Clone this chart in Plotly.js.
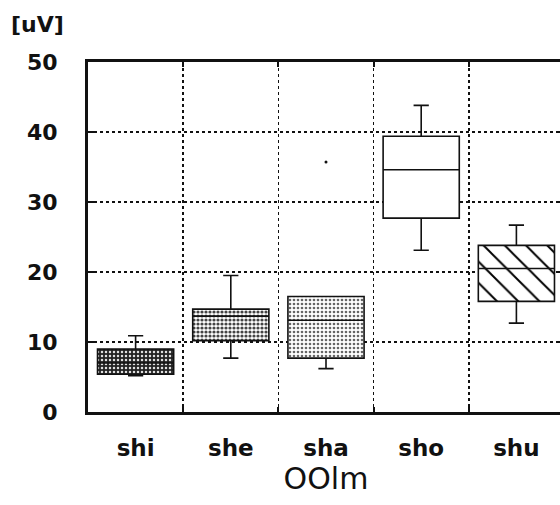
<!DOCTYPE html>
<html>
<head>
<meta charset="utf-8">
<script src="https://cdn.plot.ly/plotly-3.0.1.min.js"></script>
<style>
html,body{margin:0;padding:0;overflow:hidden;background:#fff;}
#chart{width:565px;height:505px;}
</style>
</head>
<body>
<div id="chart"></div>
<script>
// Data
const categories = ["shi", "she", "sha", "sho", "shu"];
const q1Values = [5.4, 10.2, 7.7, 27.7, 15.8];
const medianValues = [7.0, 13.7, 13.1, 34.6, 20.5];
const q3Values = [9.0, 14.7, 16.5, 39.4, 23.8];
const lowerWhiskers = [5.2, 7.7, 6.2, 23.1, 12.7];
const upperWhiskers = [10.9, 19.5, 16.5, 43.8, 26.7];
const outlierCategories = ["sha"];
const outlierValues = [35.7];
const yTickValues = [0, 10, 20, 30, 40, 50];
const yAxisUnit = "[uV]";
const xAxisTitle = "OOlm";

// Fill styles for each box (patterns), one per category
const fillStyles = [
  {shape: ".", bg: "#222222", fg: "#e0e0e0", size: 4, solidity: 0.3},
  {shape: ".", bg: "#ffffff", fg: "#444444", size: 4, solidity: 0.5},
  {shape: ".", bg: "#ffffff", fg: "#666666", size: 4, solidity: 0.35},
  {shape: "",  bg: "#ffffff", fg: "#ffffff", size: 8, solidity: 0.2},
  {shape: "\\", bg: "#ffffff", fg: "#000000", size: 15, solidity: 0.13}
];

const fillTraces = categories.map((cat, i) => {
  const st = fillStyles[i];
  return {
    type: "bar",
    x: [cat],
    y: [q3Values[i] - q1Values[i]],
    base: [q1Values[i]],
    width: 0.8,
    marker: {
      color: st.bg,
      line: {width: 0},
      pattern: {
        shape: st.shape,
        fillmode: "replace",
        bgcolor: st.bg,
        fgcolor: st.fg,
        size: st.size,
        solidity: st.solidity
      }
    },
    hoverinfo: "skip",
    showlegend: false
  };
});

const boxTrace = {
  type: "box",
  x: categories,
  q1: q1Values,
  median: medianValues,
  q3: q3Values,
  lowerfence: lowerWhiskers,
  upperfence: upperWhiskers,
  width: 0.8,
  whiskerwidth: 0.2,
  fillcolor: "rgba(0,0,0,0)",
  line: {color: "#111111", width: 1.6},
  boxpoints: false,
  showlegend: false
};

const outlierTrace = {
  type: "scatter",
  mode: "markers",
  x: outlierCategories,
  y: outlierValues,
  marker: {color: "#111111", size: 3},
  showlegend: false
};

const layout = {
  width: 565,
  height: 505,
  margin: {l: 88, r: 1, t: 62, b: 93},
  paper_bgcolor: "#ffffff",
  plot_bgcolor: "#ffffff",
  showlegend: false,
  barmode: "overlay",
  boxmode: "overlay",
  font: {family: "DejaVu Sans", color: "#111111"},
  xaxis: {
    type: "category",
    categoryorder: "array",
    categoryarray: categories,
    range: [-0.5, 4.5],
    tickson: "boundaries",
    showgrid: true,
    gridcolor: "#111111",
    griddash: "dot",
    gridwidth: 1.5,
    showline: true,
    linecolor: "#111111",
    linewidth: 3,
    mirror: "ticks",
    ticks: "inside",
    ticklen: 5,
    tickwidth: 2,
    tickcolor: "#111111",
    ticklabelstandoff: 13,
    tickfont: {family: "DejaVu Sans", size: 23, weight: "bold", color: "#111111"},
    title: {text: xAxisTitle, font: {family: "DejaVu Sans", size: 30, color: "#111111"}, standoff: 7},
    automargin: false,
    fixedrange: true
  },
  yaxis: {
    range: [0, 50],
    tickvals: yTickValues,
    showgrid: true,
    gridcolor: "#111111",
    griddash: "dot",
    gridwidth: 1.5,
    zeroline: false,
    showline: true,
    linecolor: "#111111",
    linewidth: 3,
    mirror: "ticks",
    ticks: "inside",
    ticklen: 7,
    tickwidth: 2,
    tickcolor: "#111111",
    ticklabelstandoff: 23,
    tickfont: {family: "DejaVu Sans", size: 22, weight: "bold", color: "#111111"},
    automargin: false,
    fixedrange: true
  },
  annotations: [{
    text: yAxisUnit,
    xref: "paper", yref: "paper",
    x: -0.107, y: 1.106,
    xanchor: "center", yanchor: "middle",
    showarrow: false,
    font: {family: "DejaVu Sans", size: 22, weight: "bold", color: "#111111"}
  }]
};

Plotly.newPlot("chart", fillTraces.concat([boxTrace, outlierTrace]), layout, {displayModeBar: false, staticPlot: true});
</script>
</body>
</html>
